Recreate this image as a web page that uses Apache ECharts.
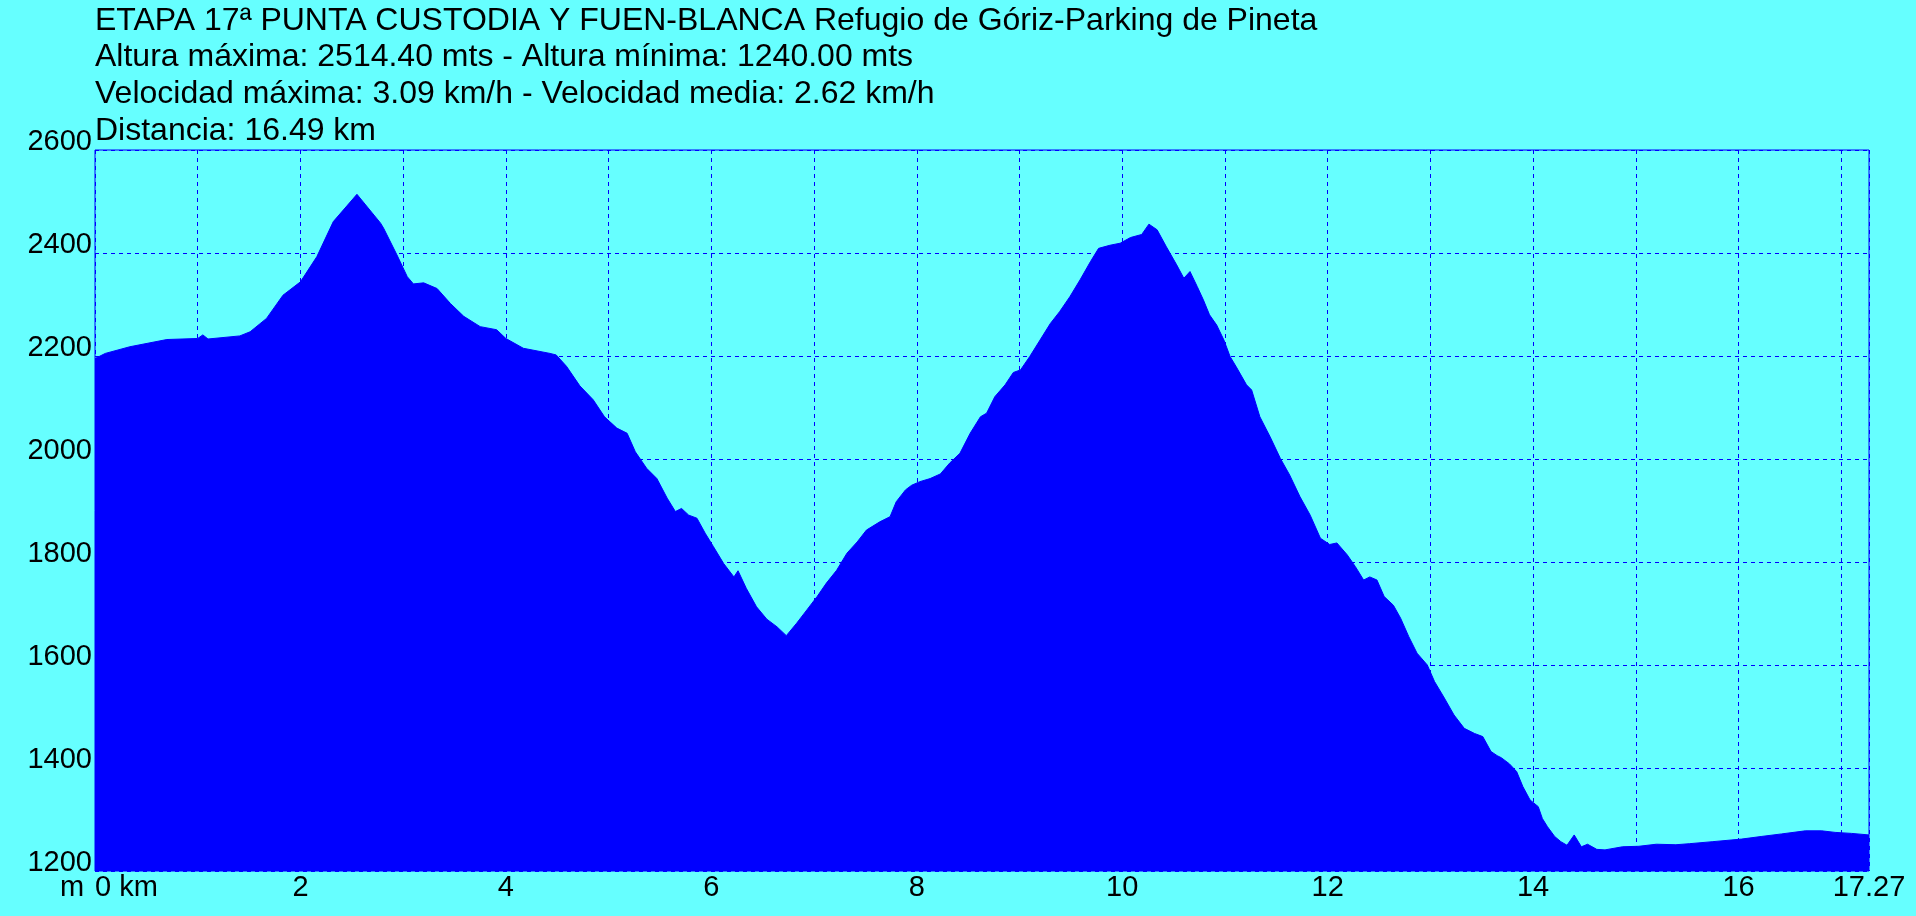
<!DOCTYPE html>
<html>
<head>
<meta charset="utf-8">
<script src="https://cdn.jsdelivr.net/npm/echarts@6/dist/echarts.min.js"></script>
<style>
html,body{margin:0;padding:0;background:#66ffff;}
#chart{width:1916px;height:916px;}
</style>
</head>
<body>
<div id="chart"></div>
<script>
const titleLines = [
  "ETAPA 17ª PUNTA CUSTODIA Y FUEN-BLANCA Refugio de Góriz-Parking de Pineta",
  "Altura máxima: 2514.40 mts - Altura mínima: 1240.00 mts",
  "Velocidad máxima: 3.09 km/h - Velocidad media: 2.62 km/h",
  "Distancia: 16.49 km"
];
const distKm = [0.00,0.10,0.34,0.70,1.00,1.05,1.10,1.41,1.51,1.67,1.83,2.00,2.16,2.32,2.55,2.78,2.81,2.94,3.04,3.10,3.20,3.33,3.46,3.59,3.75,3.91,4.00,4.17,4.43,4.49,4.59,4.72,4.85,4.96,5.08,5.18,5.26,5.37,5.47,5.57,5.65,5.71,5.78,5.86,5.94,6.02,6.12,6.22,6.26,6.34,6.44,6.54,6.64,6.73,6.83,6.93,7.03,7.12,7.22,7.32,7.42,7.51,7.64,7.74,7.80,7.89,7.95,8.03,8.13,8.23,8.32,8.42,8.52,8.62,8.68,8.76,8.86,8.94,9.01,9.10,9.20,9.30,9.39,9.49,9.59,9.69,9.77,9.88,9.98,10.08,10.19,10.26,10.34,10.43,10.53,10.60,10.66,10.73,10.79,10.85,10.92,10.99,11.05,11.11,11.21,11.26,11.34,11.44,11.54,11.63,11.73,11.83,11.93,12.02,12.09,12.19,12.27,12.35,12.41,12.48,12.55,12.64,12.71,12.79,12.87,12.97,13.04,13.13,13.23,13.33,13.43,13.51,13.59,13.65,13.69,13.77,13.84,13.90,13.97,14.05,14.09,14.14,14.21,14.27,14.33,14.40,14.47,14.53,14.62,14.70,14.87,15.03,15.20,15.39,15.52,15.75,16.03,16.22,16.42,16.65,16.81,16.94,17.10,17.27];
const elevM = [2195,2205,2218,2232,2234,2241,2233,2239,2247,2273,2318,2344,2393,2461,2514,2458,2448,2396,2354,2340,2342,2331,2302,2277,2257,2251,2234,2215,2205,2202,2180,2142,2115,2082,2060,2050,2014,1982,1962,1924,1898,1904,1891,1885,1856,1830,1797,1771,1783,1749,1713,1689,1674,1657,1681,1707,1733,1759,1784,1817,1839,1862,1878,1888,1917,1940,1949,1956,1962,1971,1992,2011,2050,2082,2089,2121,2144,2168,2173,2199,2231,2263,2286,2315,2348,2383,2409,2415,2419,2430,2436,2456,2445,2412,2377,2351,2364,2335,2309,2280,2260,2231,2199,2179,2144,2134,2082,2043,2001,1969,1927,1891,1846,1834,1837,1814,1791,1765,1771,1765,1733,1716,1691,1655,1623,1600,1568,1538,1503,1477,1467,1461,1432,1424,1420,1408,1393,1364,1338,1325,1302,1286,1267,1257,1250,1270,1247,1252,1242,1241,1247,1248,1252,1251,1253,1257,1262,1267,1272,1278,1278,1275,1273,1270];
const yTicks = {min:1200, max:2600, step:200};
const xTicks = {min:0, max:17.27, step:1, labelEvery:2};
const yUnit = "m";
const xUnit = "km";

const FONT = "'Liberation Sans', Arial, sans-serif";
const chart = echarts.init(document.getElementById('chart'));
const data = distKm.map((d,i)=>[d, elevM[i]]);
chart.setOption({
  animation:false,
  backgroundColor:'#66ffff',
  title:{
    text:titleLines.join('\n'),
    left:95, top:2.5, padding:0,
    textStyle:{fontFamily:FONT,fontSize:32,fontWeight:'normal',color:'#000',lineHeight:36.7}
  },
  grid:{left:95,right:47,top:150,bottom:45,show:true,borderColor:'#0000ff',borderWidth:1,backgroundColor:'transparent'},
  xAxis:{
    type:'value', min:xTicks.min, max:xTicks.max, interval:xTicks.step,
    axisLine:{show:false}, axisTick:{show:false},
    splitLine:{show:true,lineStyle:{color:'#0000ff',type:[4,4],width:1}},
    axisLabel:{
      fontFamily:FONT,fontSize:29,color:'#000',margin:2,lineHeight:30,
      alignMinLabel:'left', alignMaxLabel:'center', showMaxLabel:true, showMinLabel:true, hideOverlap:false,
      formatter:function(v){
        if (Math.abs(v-xTicks.max)<1e-6) return String(xTicks.max);
        if (v===0) return '0 '+xUnit;
        return (Math.round(v)%xTicks.labelEvery===0) ? String(Math.round(v)) : '';
      }
    }
  },
  yAxis:{
    type:'value', min:yTicks.min, max:yTicks.max, interval:yTicks.step,
    axisLine:{show:false}, axisTick:{show:false},
    splitLine:{show:true,lineStyle:{color:'#0000ff',type:[4,4],width:1}},
    axisLabel:{fontFamily:FONT,fontSize:29,color:'#000',margin:3,verticalAlign:'bottom',lineHeight:17,
      formatter:function(v){return String(v);}}
  },
  graphic:[{
    type:'text', left:60, top:873,
    style:{text:yUnit, font:'29px '+FONT, fill:'#000', lineHeight:30}
  }],
  series:[{
    type:'line', data:data, showSymbol:false, symbol:'none', z:1,
    lineStyle:{color:'#0000ff',width:1},
    areaStyle:{color:'#0000ff',opacity:1,origin:'start'}
  }]
});
</script>
</body>
</html>
